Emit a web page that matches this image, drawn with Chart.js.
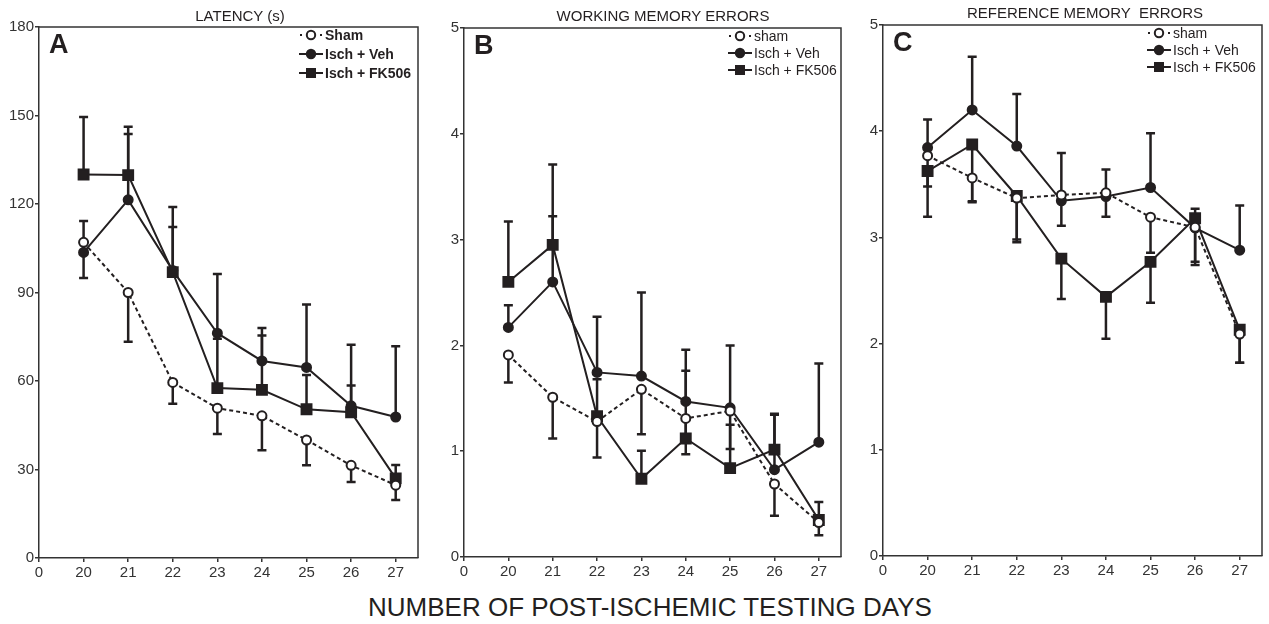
<!DOCTYPE html>
<html>
<head>
<meta charset="utf-8">
<script src="https://cdn.jsdelivr.net/npm/chart.js@4/dist/chart.umd.min.js"></script>
<style>
  body { margin: 0; background: #fff; }
  #wrap { position: relative; width: 1269px; height: 624px; font-family: "Liberation Sans", Arial, sans-serif; color: #231f20; }
  #wrap canvas { position: absolute; top: 0; }
  .ttl { position: absolute; transform: translate(-50%, -50%); white-space: pre; font-size: 15px; }
  #xlab { position: absolute; left: 650px; top: 607px; transform: translate(-50%, -50%); font-size: 26px; white-space: nowrap; }
</style>
</head>
<body>
<div id="wrap">
  <canvas id="graphA"></canvas>
  <canvas id="graphB"></canvas>
  <canvas id="graphC"></canvas>
  <div class="ttl" style="left:240px;top:15px">LATENCY (s)</div>
  <div class="ttl" style="left:663px;top:15px">WORKING MEMORY ERRORS</div>
  <div class="ttl" style="left:1085px;top:12px">REFERENCE MEMORY  ERRORS</div>
  <div id="xlab">NUMBER OF POST-ISCHEMIC TESTING DAYS</div>
</div>
<script>
// testing days and x tick labels
var days = [20, 21, 22, 23, 24, 25, 26, 27];
var xTickLabels = ['0', '20', '21', '22', '23', '24', '25', '26', '27'];

// A - latency (s)
var latSham = [107, 90, 59.5, 50.8, 48.2, 40, 31.4, 24.7];
var latShamErr = [94.9, 73.3, 52.3, 42, 36.5, 31.4, 25.8, 19.7];
var latVeh = [103.6, 121.4, 97.5, 76.2, 66.8, 64.6, 51.6, 47.8];
var latVehErr = [114.2, 143.7, 112.2, 96.3, 78, 85.9, 72.3, 71.8];
var latFk = [130, 129.8, 96.9, 57.6, 57, 50.4, 49.4, 27];
var latFkErr = [149.5, 146.2, 119, 74.3, 75.4, 62, 58.5, 31.5];

// B - working memory errors
var wmSham = [1.91, 1.51, 1.28, 1.585, 1.31, 1.38, 0.69, 0.325];
var wmShamErr = [1.65, 1.12, 0.94, 1.16, 0.97, 1.02, 0.39, 0.205];
var wmVeh = [2.17, 2.6, 1.745, 1.71, 1.47, 1.41, 0.825, 1.085];
var wmVehErr = [2.38, 3.22, 2.27, 2.5, 1.96, 2.0, 1.345, 1.83];
var wmFk = [2.6, 2.95, 1.33, 0.74, 1.12, 0.84, 1.015, 0.35];
var wmFkErr = [3.17, 3.71, 1.68, 1.005, 1.76, 1.25, 1.355, 0.52];

// C - reference memory errors
var rmSham = [3.77, 3.56, 3.37, 3.4, 3.42, 3.19, 3.095, 2.09];
var rmShamErr = [3.48, 3.34, 2.98, 3.11, 3.195, 2.855, 2.77, 1.82];
var rmVeh = [3.846, 4.2, 3.86, 3.345, 3.385, 3.47, 3.09, 2.88];
var rmVehErr = [4.11, 4.7, 4.35, 3.795, 3.64, 3.98, 3.27, 3.3];
var rmFk = [3.625, 3.875, 3.39, 2.8, 2.44, 2.77, 3.18, 2.13];
var rmFkErr = [3.195, 3.33, 2.955, 2.42, 2.045, 2.385, 2.74, 1.82];

var ink = '#231f20';

function pts(vals) {
  return vals.map(function (v, i) { return { x: i + 1, y: v }; });
}

// error bars: vertical line from the mean to the tip, cap at the tip
var errorBars = {
  id: 'errorBars',
  beforeDatasetsDraw: function (chart) {
    var ctx = chart.ctx;
    var xs = chart.scales.x, ys = chart.scales.y;
    ctx.save();
    ctx.strokeStyle = ink;
    ctx.lineWidth = 2.5;
    chart.data.datasets.forEach(function (ds) {
      ds.data.forEach(function (p, i) {
        var x = xs.getPixelForValue(p.x);
        var y0 = ys.getPixelForValue(p.y);
        var y1 = ys.getPixelForValue(ds.errTips[i]);
        ctx.beginPath();
        ctx.moveTo(x, y0);
        ctx.lineTo(x, y1);
        ctx.moveTo(x - 4.5, y1);
        ctx.lineTo(x + 4.5, y1);
        ctx.stroke();
      });
    });
    ctx.restore();
  }
};

// box, panel letter and legend
var panelDeco = {
  id: 'panelDeco',
  afterDraw: function (chart) {
    var ctx = chart.ctx;
    var a = chart.chartArea;
    var o = chart.options.plugins.panelDeco;
    ctx.save();
    ctx.strokeStyle = '#333';
    ctx.lineWidth = 1.5;
    ctx.beginPath();
    ctx.moveTo(a.left, a.top);
    ctx.lineTo(a.right, a.top);
    ctx.lineTo(a.right, a.bottom);
    ctx.stroke();

    ctx.fillStyle = ink;
    ctx.font = 'bold 27px "Liberation Sans", Arial, sans-serif';
    ctx.textBaseline = 'middle';
    ctx.fillText(o.letter, a.left + 10, a.top + 19);

    ctx.font = (o.bold ? 'bold ' : '') + '14px "Liberation Sans", Arial, sans-serif';
    chart.data.datasets.forEach(function (ds, i) {
      var lx = a.left + o.legendX;
      var ly = a.top + o.legendY + i * o.legendGap;
      ctx.strokeStyle = ink;
      ctx.lineWidth = 2;
      ctx.beginPath();
      if (ds.borderDash) {
        ctx.fillRect(lx + 1, ly - 1, 2, 2);
        ctx.fillRect(lx + 21, ly - 1, 2, 2);
      } else {
        ctx.moveTo(lx, ly);
        ctx.lineTo(lx + 24, ly);
        ctx.stroke();
      }
      ctx.beginPath();
      if (ds.pointStyle === 'rect') {
        ctx.fillRect(lx + 7, ly - 5, 10, 10);
      } else {
        ctx.arc(lx + 12, ly, 4.2, 0, Math.PI * 2);
        ctx.fillStyle = ds.pointBackgroundColor;
        ctx.fill();
        ctx.stroke();
        ctx.fillStyle = ink;
      }
      ctx.fillText(ds.label, lx + 26, ly + 1);
    });
    ctx.restore();
  }
};

function makeChart(id, box, yMax, yStep, sets, deco) {
  var canvas = document.getElementById(id);
  var yW = 36, padR = 8, xH = 30;
  canvas.width = box.right - box.left + yW + padR;
  canvas.height = box.bottom + xH;
  canvas.style.left = (box.left - yW) + 'px';

  var names = deco.names;
  var datasets = [
    { label: names[0], data: pts(sets[0]), errTips: sets[1], borderDash: [4, 3],
      pointStyle: 'circle', pointRadius: 4.5, pointBackgroundColor: '#fff' },
    { label: names[1], data: pts(sets[2]), errTips: sets[3],
      pointStyle: 'circle', pointRadius: 4.5, pointBackgroundColor: ink },
    { label: names[2], data: pts(sets[4]), errTips: sets[5],
      pointStyle: 'rect', pointRadius: 7, pointBackgroundColor: ink }
  ];
  datasets.forEach(function (ds) {
    ds.borderColor = ink;
    ds.borderWidth = 2;
    ds.pointBorderColor = ink;
    ds.pointBorderWidth = 2;
    ds.fill = false;
    ds.tension = 0;
  });

  var tickFont = { family: '"Liberation Sans", Arial, sans-serif', size: 15 };

  return new Chart(canvas.getContext('2d'), {
    type: 'line',
    data: { datasets: datasets },
    options: {
      responsive: false,
      animation: false,
      clip: false,
      layout: { padding: { top: box.top, right: padR, left: 0, bottom: 0 } },
      plugins: {
        legend: { display: false },
        tooltip: { enabled: false },
        panelDeco: deco
      },
      scales: {
        x: {
          type: 'linear',
          min: 0,
          max: 8.5,
          afterBuildTicks: function (s) {
            s.ticks = s.ticks.filter(function (t) { return Number.isInteger(t.value); });
          },
          afterFit: function (s) { s.height = xH; },
          grid: { drawOnChartArea: false, drawTicks: true, tickLength: 4, color: '#333', lineWidth: 1.5 },
          border: { display: true, color: '#333', width: 1.5 },
          ticks: {
            stepSize: 1,
            includeBounds: false,
            autoSkip: false,
            maxRotation: 0,
            padding: 2,
            color: '#333',
            font: tickFont,
            callback: function (v) { return xTickLabels[v]; }
          }
        },
        y: {
          min: 0,
          max: yMax,
          afterFit: function (s) { s.width = yW; },
          grid: { drawOnChartArea: false, drawTicks: true, tickLength: 4, color: '#333', lineWidth: 1.5 },
          border: { display: true, color: '#333', width: 1.5 },
          ticks: { stepSize: yStep, padding: 1, color: '#333', font: tickFont }
        }
      }
    },
    plugins: [errorBars, panelDeco]
  });
}

makeChart('graphA', { left: 39, right: 419, top: 27, bottom: 558 }, 180, 30,
  [latSham, latShamErr, latVeh, latVehErr, latFk, latFkErr],
  { letter: 'A', bold: true, names: ['Sham', 'Isch + Veh', 'Isch + FK506'],
    legendX: 260, legendY: 8, legendGap: 19 });

makeChart('graphB', { left: 464, right: 842, top: 28, bottom: 557 }, 5, 1,
  [wmSham, wmShamErr, wmVeh, wmVehErr, wmFk, wmFkErr],
  { letter: 'B', bold: false, names: ['sham', 'Isch + Veh', 'Isch + FK506'],
    legendX: 264, legendY: 8, legendGap: 17 });

makeChart('graphC', { left: 883, right: 1263, top: 25, bottom: 556 }, 5, 1,
  [rmSham, rmShamErr, rmVeh, rmVehErr, rmFk, rmFkErr],
  { letter: 'C', bold: false, names: ['sham', 'Isch + Veh', 'Isch + FK506'],
    legendX: 264, legendY: 8, legendGap: 17 });
</script>
</body>
</html>
